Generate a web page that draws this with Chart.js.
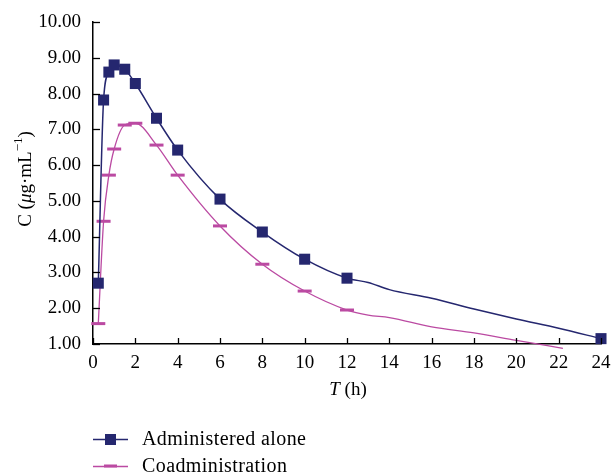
<!DOCTYPE html>
<html><head><meta charset="utf-8">
<script src="https://cdn.jsdelivr.net/npm/chart.js@4"></script>
<style>html,body{margin:0;padding:0;background:#fff}#wrap{width:616px;height:473px}</style>
</head><body><div id="wrap"><canvas id="c" width="616" height="473"></canvas></div>
<script>
// Measured sampling times (h) and concentrations (µg/mL)
const timesAlone = [0.25, 0.5, 0.75, 1, 1.5, 2, 3, 4, 6, 8, 10, 12, 24];
const aloneValues = [2.70, 7.82, 8.60, 8.80, 8.68, 8.28, 7.31, 6.42, 5.05, 4.13, 3.37, 2.84, 1.15];
const timesCoadmin = [0.25, 0.5, 0.75, 1, 1.5, 2, 3, 4, 6, 8, 10, 12];
const coadminValues = [1.57, 4.43, 5.72, 6.45, 7.12, 7.17, 6.56, 5.72, 4.30, 3.23, 2.48, 1.95];
// Curve points (no marker)
const aloneCurveTimes = [13, 14, 16, 18, 20, 22];
const aloneCurveValues = [2.72, 2.52, 2.28, 1.98, 1.70, 1.44];
const coadminCurveTimes = [13, 14, 16, 18, 20, 22.2];
const coadminCurveValues = [1.81, 1.74, 1.48, 1.31, 1.10, 0.88];
const xTicks = [0, 2, 4, 6, 8, 10, 12, 14, 16, 18, 20, 22, 24];
const yTicks = [1, 2, 3, 4, 5, 6, 7, 8, 9, 10];
const seriesNames = ['Administered alone', 'Coadministration'];

const NAVY = '#25276f';
const MAG = '#bb4aa2';
const FONT = '"Liberation Serif", "Times New Roman", serif';

function mergeSeries(t1, v1, t2, v2) {
  const pts = [];
  t1.forEach((t, i) => pts.push({x: t, y: v1[i], m: true}));
  t2.forEach((t, i) => pts.push({x: t, y: v2[i], m: false}));
  pts.sort((a, b) => a.x - b.x);
  return pts;
}
const alonePts = mergeSeries(timesAlone, aloneValues, aloneCurveTimes, aloneCurveValues);
const coPts = mergeSeries(timesCoadmin, coadminValues, coadminCurveTimes, coadminCurveValues);

const decor = {
  id: 'decor',
  afterDraw(chart) {
    const ctx = chart.ctx;
    const xs = chart.scales.x, ys = chart.scales.y;
    const area = chart.chartArea;
    ctx.save();
    ctx.strokeStyle = '#000';
    ctx.lineWidth = 1.3;
    // inner tick marks
    xTicks.forEach(v => {
      const px = Math.round(xs.getPixelForValue(v)) + 0.5;
      ctx.beginPath(); ctx.moveTo(px, area.bottom); ctx.lineTo(px, area.bottom - 6); ctx.stroke();
    });
    yTicks.forEach(v => {
      const py = Math.round(ys.getPixelForValue(v)) + 0.5;
      ctx.beginPath(); ctx.moveTo(area.left, py); ctx.lineTo(area.left + 7, py); ctx.stroke();
    });
    // y axis title
    ctx.fillStyle = '#000';
    ctx.textBaseline = 'middle';
    ctx.save();
    ctx.translate(26, 179);
    ctx.rotate(-Math.PI / 2);
    const parts = [
      {t: 'C', f: '19px ' + FONT},
      {t: ' (', f: '19px ' + FONT},
      {t: 'μ', f: 'italic 19px ' + FONT},
      {t: 'g·mL', f: '19px ' + FONT},
      {t: '−1', f: '13px ' + FONT, sup: true},
      {t: ')', f: '19px ' + FONT}
    ];
    let total = 0;
    parts.forEach(p => { ctx.font = p.f; p.w = ctx.measureText(p.t).width; total += p.w; });
    let cx = -total / 2;
    ctx.textAlign = 'left';
    parts.forEach(p => { ctx.font = p.f; ctx.fillText(p.t, cx, p.sup ? -7 : 0); cx += p.w; });
    ctx.restore();
    // x axis title
    const xparts = [{t: 'T', f: 'italic 19px ' + FONT}, {t: ' (h)', f: '19px ' + FONT}];
    total = 0;
    xparts.forEach(p => { ctx.font = p.f; p.w = ctx.measureText(p.t).width; total += p.w; });
    cx = 348 - total / 2;
    xparts.forEach(p => { ctx.font = p.f; ctx.fillText(p.t, cx, 390); cx += p.w; });
    // legend
    const rows = [
      {y: 439.5, color: NAVY, name: seriesNames[0], mark: 'sq'},
      {y: 466.5, color: MAG, name: seriesNames[1], mark: 'dash'}
    ];
    rows.forEach(r => {
      ctx.strokeStyle = r.color; ctx.lineWidth = 1.5;
      ctx.beginPath(); ctx.moveTo(93, r.y); ctx.lineTo(128, r.y); ctx.stroke();
      ctx.fillStyle = r.color;
      if (r.mark === 'sq') ctx.fillRect(105, r.y - 5.5, 11, 11);
      else ctx.fillRect(104, r.y - 2, 13, 3);
      ctx.fillStyle = '#000';
      ctx.font = '20px ' + FONT;
      ctx.letterSpacing = '0.4px';
      ctx.textAlign = 'left';
      ctx.fillText(r.name, 142, r.y);
      ctx.letterSpacing = '0px';
    });
    ctx.restore();
  }
};

new Chart(document.getElementById('c'), {
  type: 'line',
  data: {
    datasets: [
      {
        label: seriesNames[0],
        data: alonePts,
        borderColor: NAVY,
        backgroundColor: NAVY,
        borderWidth: 1.5,
        pointStyle: 'rect',
        pointRadius: alonePts.map(p => p.m ? 7.8 : 0),
        pointBorderWidth: 0,
        cubicInterpolationMode: 'monotone',
        clip: false
      },
      {
        label: seriesNames[1],
        data: coPts,
        borderColor: MAG,
        backgroundColor: MAG,
        borderWidth: 1.3,
        pointStyle: 'line',
        pointRadius: coPts.map(p => p.m ? 7 : 0),
        pointBorderWidth: 3,
        pointBorderColor: MAG,
        cubicInterpolationMode: 'monotone',
        clip: false
      }
    ]
  },
  options: {
    responsive: false,
    animation: false,
    layout: {padding: {top: 22, right: 15, bottom: 0, left: 0}},
    plugins: {legend: {display: false}, tooltip: {enabled: false}},
    scales: {
      x: {
        type: 'linear', min: 0, max: 24,
        afterBuildTicks: s => { s.ticks = xTicks.map(v => ({value: v})); },
        afterFit: s => { s.height = 129; },
        grid: {display: false},
        border: {display: true, color: '#000', width: 1.5},
        ticks: {color: '#000', font: {family: FONT, size: 19}, padding: 0, maxRotation: 0, autoSkip: false}
      },
      y: {
        type: 'linear', min: 1, max: 10,
        afterBuildTicks: s => { s.ticks = yTicks.map(v => ({value: v})); },
        afterFit: s => { s.width = 93; },
        grid: {display: false},
        border: {display: true, color: '#000', width: 1.5},
        ticks: {color: '#000', font: {family: FONT, size: 19}, padding: 4, callback: v => Number(v).toFixed(2)}
      }
    }
  },
  plugins: [decor]
});
</script></body></html>
